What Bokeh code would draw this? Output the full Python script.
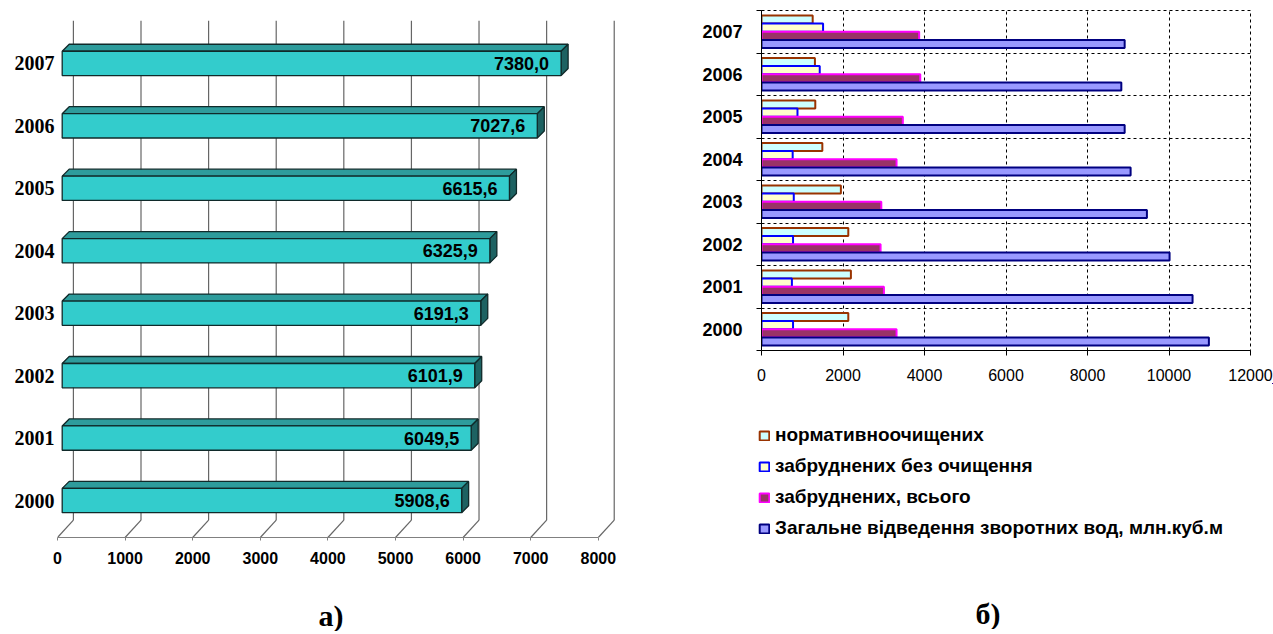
from bokeh.plotting import figure
from bokeh.models import Range1d, FixedTicker, Title, Legend, LegendItem
from bokeh.layouts import row, column
from bokeh.embed import file_html
from bokeh.resources import INLINE
from bokeh.core.properties import value

# ---------------- data ----------------
years = [2000, 2001, 2002, 2003, 2004, 2005, 2006, 2007]

# chart а) (values printed on bars)
total_a = [5908.6, 6049.5, 6101.9, 6191.3, 6325.9, 6615.6, 7027.6, 7380.0]
ticks_a = [0, 1000, 2000, 3000, 4000, 5000, 6000, 7000, 8000]

# chart б)
normative = [2130, 2194, 2130, 1948, 1493, 1320, 1311, 1256]
untreated = [774, 746, 774, 792, 765, 883, 1429, 1511]
polluted = [3314, 3004, 2922, 2940, 3314, 3468, 3896, 3869]
total_b = [10979, 10578, 10014, 9458, 9058, 8912, 8830, 8912]
ticks_b = [0, 2000, 4000, 6000, 8000, 10000, 12000]

series_names = [
    "нормативноочищених",
    "забруднених без очищення",
    "забруднених, всього",
    "Загальне відведення зворотних вод, млн.куб.м",
]
series_fill = ["#CCFFFF", "#FFFFCC", "#993366", "#9999FF"]
series_line = ["#993300", "#0000FF", "#FF00FF", "#000080"]

SANS = "Liberation Sans"
SERIF = "Liberation Serif"

n = len(years)
idx = list(range(n))


def bare(p):
    p.outline_line_color = None
    p.background_fill_color = "white"
    p.border_fill_color = "white"
    if "frame_align" in p.properties():
        p.frame_align = False
    return p


def caption_strip(text, fw, fh, left, right, offset, x_range=(0, 1), y_range=(0, 1)):
    s = figure(frame_width=fw, frame_height=fh, x_range=Range1d(*x_range), y_range=Range1d(*y_range),
               output_backend="svg", toolbar_location=None, x_axis_location=None, y_axis_location=None,
               min_border_left=left, min_border_right=right, min_border_top=0, min_border_bottom=0)
    bare(s)
    s.xgrid.visible = False
    s.ygrid.visible = False
    s.add_layout(Title(text=text, align="left", offset=offset, standoff=0, text_color="black",
                       text_font=SERIF, text_font_style="bold", text_font_size="30px"), "below")
    return s


# ---------------- chart а) ----------------
XA0, XA1 = 0, 8328
YA0, YA1 = -0.592, 7.687
FWA, FHA = 563, 517
pa = figure(frame_width=FWA, frame_height=FHA, x_range=Range1d(XA0, XA1), y_range=Range1d(YA0, YA1),
            output_backend="svg", toolbar_location=None,
            min_border_left=57, min_border_right=20, min_border_top=20, min_border_bottom=0)
bare(pa)
pa.xgrid.visible = False
pa.ygrid.visible = False

ux = (XA1 - XA0) / FWA
uy = (YA1 - YA0) / FHA
back_dx, back_dy = 15.9 * ux, 17.3 * uy
bar_off = 4.7 * ux
ddx, ddy = 7.0 * ux, 7.0 * uy
bar_h = 24.3 * uy

# back wall grid lines and floor diagonals
pa.segment(x0=[t + back_dx for t in ticks_a], y0=[YA0 + back_dy] * len(ticks_a),
           x1=[t + back_dx for t in ticks_a], y1=[YA1] * len(ticks_a),
           line_color="#666666", line_width=1.2)
pa.segment(x0=ticks_a, y0=[YA0] * len(ticks_a),
           x1=[t + back_dx for t in ticks_a], y1=[YA0 + back_dy] * len(ticks_a),
           line_color="#666666", line_width=1.2)

# 3D bars
outline = "#102a2a"
pa.patches(xs=[[bar_off, v + bar_off, v + bar_off + ddx, bar_off + ddx] for v in total_a],
           ys=[[i + bar_h / 2, i + bar_h / 2, i + bar_h / 2 + ddy, i + bar_h / 2 + ddy] for i in idx],
           fill_color="#2E9C9C", line_color=outline, line_width=1.3)
pa.patches(xs=[[v + bar_off, v + bar_off + ddx, v + bar_off + ddx, v + bar_off] for v in total_a],
           ys=[[i - bar_h / 2, i - bar_h / 2 + ddy, i + bar_h / 2 + ddy, i + bar_h / 2] for i in idx],
           fill_color="#1D6262", line_color=outline, line_width=1.3)
pa.hbar(y=idx, left=[bar_off] * n, right=[v + bar_off for v in total_a], height=bar_h,
        fill_color="#33CCCC", line_color=outline, line_width=1.3)

labels_a = [f"{v:.1f}".replace(".", ",") for v in total_a]
pa.text(x=[v + bar_off for v in total_a], y=idx, text=labels_a, x_offset=-12,
        text_align="right", text_baseline="middle", text_font=value(SANS),
        text_font_style="bold", text_font_size="18px", text_color="black")

pa.xaxis.ticker = FixedTicker(ticks=ticks_a)
pa.xaxis.bounds = (ticks_a[0], ticks_a[-1])
pa.xaxis.axis_line_color = "#808080"
pa.xaxis.major_tick_line_color = "#808080"
pa.xaxis.major_tick_out = 3
pa.xaxis.major_tick_in = 0
pa.xaxis.minor_tick_line_color = None
pa.xaxis.major_label_standoff = 11
pa.xaxis.major_label_text_font = SANS
pa.xaxis.major_label_text_font_style = "bold"
pa.xaxis.major_label_text_font_size = "16px"
pa.xaxis.major_label_text_color = "black"

pa.yaxis.ticker = FixedTicker(ticks=idx)
pa.yaxis.major_label_overrides = {i: str(y) for i, y in zip(idx, years)}
pa.yaxis.axis_line_color = None
pa.yaxis.major_tick_line_color = None
pa.yaxis.minor_tick_line_color = None
pa.yaxis.major_tick_out = 0
pa.yaxis.major_label_standoff = 3
pa.yaxis.major_label_text_font = SERIF
pa.yaxis.major_label_text_font_style = "bold"
pa.yaxis.major_label_text_font_size = "20px"
pa.yaxis.major_label_text_color = "black"

sa = caption_strip("а)", FWA, 30, 57, 20, 261)

# ---------------- chart б) ----------------
FWB, FHB = 489, 340
pb = figure(frame_width=FWB, frame_height=FHB, x_range=Range1d(0, 12000), y_range=Range1d(-0.5, n - 0.5),
            output_backend="svg", toolbar_location=None,
            min_border_left=121, min_border_right=23, min_border_top=10, min_border_bottom=0)
bare(pb)
pb.outline_line_color = "black"
pb.outline_line_dash = "3 3"

boundaries = [i - 0.5 for i in idx] + [n - 0.5]
pb.xgrid.ticker = FixedTicker(ticks=ticks_b)
pb.ygrid.ticker = FixedTicker(ticks=boundaries)
for g in (pb.xgrid, pb.ygrid):
    g.grid_line_color = "black"
    g.grid_line_dash = "3 3"
    g.grid_line_width = 1

bh = 0.19
series_vals = [normative, untreated, polluted, total_b]
series_shift = [0.29, 0.097, -0.097, -0.29]
for vals, sh, fc, lc in zip(series_vals, series_shift, series_fill, series_line):
    pb.hbar(y=[i + sh for i in idx], left=0, right=vals, height=bh,
            fill_color=fc, line_color=lc, line_width=2)

pb.xaxis.ticker = FixedTicker(ticks=ticks_b)
pb.xaxis.axis_line_color = "black"
pb.xaxis.major_tick_line_color = "black"
pb.xaxis.major_tick_out = 5
pb.xaxis.major_tick_in = 0
pb.xaxis.minor_tick_line_color = None
pb.xaxis.major_label_standoff = 13
pb.xaxis.major_label_text_font = SANS
pb.xaxis.major_label_text_font_size = "16px"
pb.xaxis.major_label_text_color = "black"

pb.yaxis.ticker = FixedTicker(ticks=idx, minor_ticks=boundaries)
pb.yaxis.major_label_overrides = {i: str(y) for i, y in zip(idx, years)}
pb.yaxis.axis_line_color = "black"
pb.yaxis.major_tick_line_color = None
pb.yaxis.major_tick_out = 0
pb.yaxis.major_tick_in = 0
pb.yaxis.minor_tick_line_color = "black"
pb.yaxis.minor_tick_out = 5
pb.yaxis.minor_tick_in = 0
pb.yaxis.major_label_standoff = 14
pb.yaxis.major_label_text_font = SANS
pb.yaxis.major_label_text_font_style = "bold"
pb.yaxis.major_label_text_font_size = "18px"
pb.yaxis.major_label_text_color = "black"

# legend panel of chart б): the same series, placed outside its view, only provide the swatches
pl = caption_strip("б)", 556, 211, 77, 0, 258, x_range=(-2000, -1000), y_range=(-3, -2))
items = []
for name, vals, sh, fc, lc in zip(series_names, series_vals, series_shift, series_fill, series_line):
    r = pl.hbar(y=[i + sh for i in idx], left=0, right=vals, height=bh,
                fill_color=fc, line_color=lc, line_width=2)
    items.append(LegendItem(label=name, renderers=[r]))
legend = Legend(items=items, location="top_left", margin=41, padding=0, spacing=9, label_height=22,
                glyph_width=12, glyph_height=11, label_standoff=5,
                label_text_font=SANS, label_text_font_style="bold",
                label_text_font_size="19px", label_text_color="black",
                border_line_color=None, background_fill_alpha=0)
pl.add_layout(legend)

layout = row(column(pa, sa), column(pb, pl))
open("out.html", "w").write(file_html(layout, INLINE))
